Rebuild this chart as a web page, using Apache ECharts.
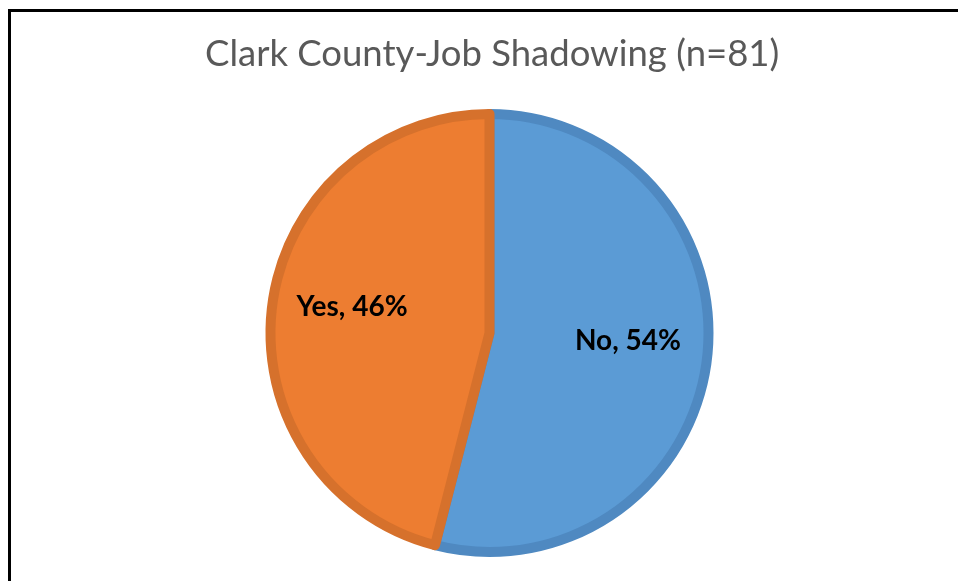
<!DOCTYPE html>
<html>
<head>
<meta charset="utf-8">
<script src="https://cdn.jsdelivr.net/npm/echarts@6/dist/echarts.min.js"></script>
<style>
  html, body { margin: 0; padding: 0; background: #fff; }
  #chart { position: absolute; left: 0; top: 0; width: 958px; height: 581px; }
  #frame { position: absolute; left: 8px; top: 9px; right: -10px; bottom: -10px;
           border-left: 3px solid #000; border-top: 3px solid #000; pointer-events: none; }
</style>
</head>
<body>
<div id="chart"></div>
<div id="frame"></div>
<script>
// Survey answers and their shares (percent)
const titleText = 'Clark County-Job Shadowing (n=81)';
const answers = ['No', 'Yes'];
const shares = [54, 46];
const fillColors = ['#5B9BD5', '#ED7D31'];
const edgeColors = ['#4F89C1', '#D6712C'];

const chart = echarts.init(document.getElementById('chart'), null, { renderer: 'canvas' });

const sliceData = answers.map((name, i) => ({
  name: name,
  value: shares[i],
  itemStyle: { color: fillColors[i], borderColor: edgeColors[i] }
}));

const labelData = answers.map((name, i) => ({ name: name, value: shares[i] }));

chart.setOption({
  animation: false,
  title: {
    text: titleText,
    left: 200,
    top: 31,
    textStyle: { fontFamily: 'Lato', fontSize: 36.5, fontWeight: 'normal', color: '#595959' }
  },
  series: [
    {
      type: 'pie',
      center: [489.5, 333],
      radius: [0, 219],
      startAngle: 90,
      clockwise: true,
      silent: true,
      itemStyle: { borderWidth: 10 },
      label: { show: false },
      labelLine: { show: false },
      data: sliceData
    },
    {
      // transparent twin carrying the category labels further out
      type: 'pie',
      center: [490, 324],
      radius: [0, 272],
      startAngle: 90,
      clockwise: true,
      silent: true,
      itemStyle: { color: 'rgba(0,0,0,0)', borderWidth: 0 },
      label: {
        show: true,
        position: 'inside',
        formatter: p => p.name + ', ' + p.value + '%',
        fontFamily: 'Lato',
        fontWeight: 'bold',
        fontSize: 28,
        color: '#000'
      },
      labelLine: { show: false },
      data: labelData
    }
  ]
});
</script>
</body>
</html>
